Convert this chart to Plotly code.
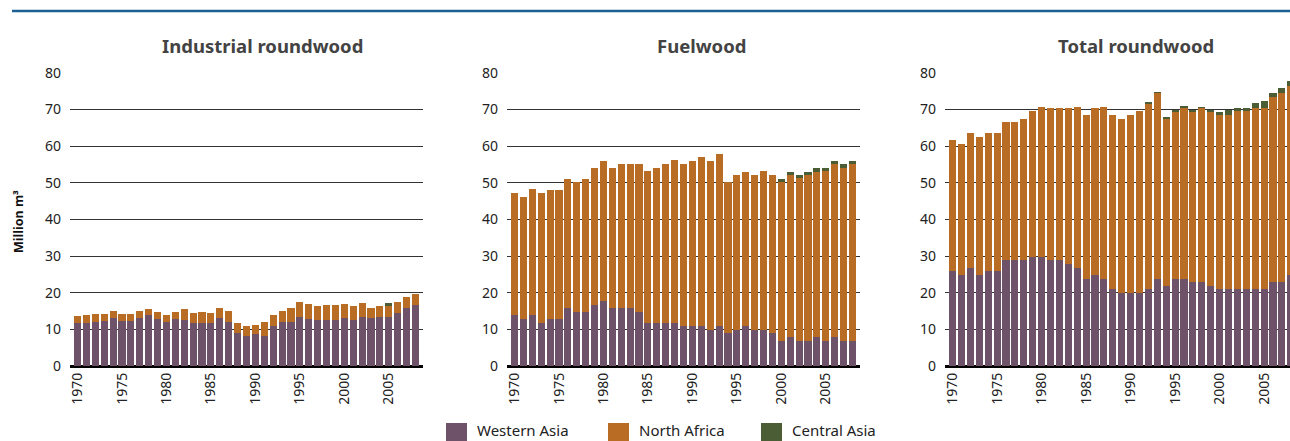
import plotly.graph_objects as go

# 1970-2008, million m3
years = list(range(1970, 2009))
tick_years = [1970, 1975, 1980, 1985, 1990, 1995, 2000, 2005]

ind_western = [11.8, 11.8, 12.0, 12.3, 13.1, 12.3, 12.3, 13.1, 13.8, 12.9,
               12.0, 12.9, 12.6, 11.8, 11.8, 11.8, 13.1, 12.0, 8.9, 8.2,
               8.6, 8.2, 10.9, 12.0, 12.0, 13.5, 12.9, 12.6, 12.6, 12.6,
               13.1, 12.6, 13.4, 13.1, 13.4, 13.4, 14.5, 15.8, 16.7]
ind_nafrica = [1.9, 2.1, 2.3, 2.0, 1.9, 2.0, 2.0, 1.9, 1.8, 1.9,
               1.9, 1.9, 3.0, 2.7, 3.0, 2.7, 2.7, 3.0, 2.7, 2.7,
               2.6, 3.8, 3.0, 3.0, 3.8, 4.0, 4.0, 3.9, 4.1, 4.1,
               3.8, 3.9, 3.8, 2.7, 3.0, 3.0, 3.0, 3.0, 3.0]
ind_central = [0] * 35 + [0.8, 0, 0, 0]

fuel_western = [14.0, 12.9, 14.0, 11.8, 12.9, 12.9, 15.9, 14.7, 14.7, 16.6,
                17.7, 15.9, 15.9, 15.9, 14.7, 11.8, 11.8, 11.8, 11.8, 10.9,
                10.9, 10.9, 9.8, 10.9, 9.1, 9.8, 10.9, 9.8, 9.8, 9.1,
                6.8, 7.9, 6.8, 6.8, 7.9, 6.8, 7.9, 6.8, 6.8]
fuel_nafrica = [33.2, 33.2, 34.3, 35.4, 35.1, 35.1, 35.1, 35.5, 36.3, 37.5,
                38.2, 38.2, 39.2, 39.2, 40.4, 41.4, 42.3, 43.3, 44.4, 44.2,
                45.0, 46.1, 46.1, 47.0, 41.1, 42.3, 42.0, 42.3, 43.4, 43.0,
                43.4, 44.2, 44.5, 45.3, 45.0, 46.4, 47.2, 47.2, 48.3]
fuel_central = [0] * 30 + [0.8, 0.8, 0.8, 0.8, 1.1, 0.8, 0.8, 1.1, 0.8]

tot_western = [25.9, 24.8, 26.7, 24.8, 25.9, 25.9, 28.9, 28.9, 28.9, 29.7,
               29.7, 28.9, 28.9, 27.8, 26.7, 23.7, 24.8, 23.7, 21.0, 19.9,
               19.9, 19.9, 21.0, 23.7, 21.8, 23.7, 23.7, 22.9, 22.9, 21.8,
               21.0, 21.0, 21.0, 21.0, 21.0, 21.0, 22.9, 22.9, 24.8]
tot_nafrica = [35.7, 35.7, 36.8, 37.7, 37.6, 37.6, 37.6, 37.6, 38.5, 39.8,
               40.9, 41.5, 41.5, 42.6, 43.9, 44.8, 45.6, 46.9, 47.5, 47.5,
               48.6, 49.6, 50.5, 50.8, 45.8, 45.8, 46.9, 46.6, 47.5, 47.7,
               47.5, 47.5, 48.5, 48.5, 49.4, 49.4, 50.5, 51.6, 51.6]
tot_central = [0] * 22 + [0.5, 0.2, 0.3, 0.3, 0.3, 0.3, 0.2, 0.3,
                          0.8, 1.4, 0.9, 0.9, 1.3, 1.9, 1.1, 1.3, 1.3]

regions = ["Western Asia", "North Africa", "Central Asia"]
colors = {"Western Asia": "#6d5269", "North Africa": "#b86c24",
          "Central Asia": "#4a5d34"}

panels = [
    ("Industrial roundwood", [ind_western, ind_nafrica, ind_central]),
    ("Fuelwood", [fuel_western, fuel_nafrica, fuel_central]),
    ("Total roundwood", [tot_western, tot_nafrica, tot_central]),
]

W, H = 1290, 441
FONT = "Noto Sans"

fig = go.Figure()
for i, (name, series) in enumerate(panels):
    sfx = "" if i == 0 else str(i + 1)
    for reg, vals in zip(regions, series):
        fig.add_trace(go.Bar(
            x=years, y=vals, name=reg,
            marker=dict(color=colors[reg], line=dict(width=0)),
            xaxis="x" + sfx, yaxis="y" + sfx,
            showlegend=False,
        ))

# pixel extents of each plot area (third panel runs off the right edge)
x_px = [(70, 423), (507, 860), (945, 1290)]
x_ranges = [[1969.15, 2008.85], [1969.15, 2008.85], [1969.15, 2007.91]]
y_dom = [1 - 366 / H, 1 - 72 / H]

axes = {}
for i in range(3):
    sfx = "" if i == 0 else str(i + 1)
    axes["xaxis" + sfx] = dict(
        domain=[x_px[i][0] / W, x_px[i][1] / W],
        range=x_ranges[i],
        anchor="y" + sfx,
        tickmode="array", tickvals=tick_years,
        tickangle=-90,
        tickfont=dict(size=14, color="#222", family=FONT),
        showgrid=False, showline=False, zeroline=False,
        ticks="", ticklabelstandoff=3,
        automargin=False, fixedrange=True,
    )
    axes["yaxis" + sfx] = dict(
        domain=y_dom,
        range=[0, 80.2],
        anchor="x" + sfx,
        dtick=10,
        showgrid=True, gridcolor="#333", gridwidth=1,
        zeroline=True, zerolinecolor="#000", zerolinewidth=2.5,
        showline=False, ticks="", ticklabelstandoff=8,
        tickfont=dict(size=14, color="#222", family=FONT),
        automargin=False, fixedrange=True,
    )

annotations = []
title_cx = [262, 701, 1136]
for (name, _), cx in zip(panels, title_cx):
    annotations.append(dict(
        text="<b>" + name + "</b>", x=cx / W, y=1 - 45 / H,
        xref="paper", yref="paper", showarrow=False,
        xanchor="center", yanchor="middle",
        font=dict(size=18.5, color="#434343", family=FONT),
    ))

annotations.append(dict(
    text="<b>Million m³</b>", x=18 / W, y=1 - 222 / H,
    xref="paper", yref="paper", showarrow=False, textangle=-90,
    xanchor="center", yanchor="middle",
    font=dict(size=12.5, color="#111", family=FONT),
))

# top rule and a hand-drawn legend along the bottom edge
shapes = [dict(type="line", xref="paper", yref="paper",
               x0=12 / W, x1=1, y0=1 - 11 / H, y1=1 - 11 / H,
               line=dict(color="#1d6192", width=2.5))]
leg_x = [446, 608, 761]
for reg, lx in zip(regions, leg_x):
    shapes.append(dict(type="rect", xref="paper", yref="paper",
                       x0=lx / W, x1=(lx + 21) / W,
                       y0=1 - 444 / H, y1=1 - 423 / H,
                       fillcolor=colors[reg], line=dict(width=0)))
    annotations.append(dict(
        text=reg, x=(lx + 30) / W, y=0,
        xref="paper", yref="paper", showarrow=False,
        xanchor="left", yanchor="bottom", borderpad=0,
        font=dict(size=15, color="#222", family=FONT),
    ))

fig.update_layout(
    width=W, height=H,
    margin=dict(l=0, r=0, t=0, b=0, pad=0),
    paper_bgcolor="white", plot_bgcolor="white",
    barmode="stack", bargap=0.2,
    font=dict(family=FONT),
    annotations=annotations, shapes=shapes,
    showlegend=False,
    **axes,
)

# drop the default body margin so the figure sits flush in the window
fig.write_html(
    "out.html",
    config={"displayModeBar": False},
    post_script="document.body.style.margin='0';"
                "document.body.style.overflow='hidden';",
)
